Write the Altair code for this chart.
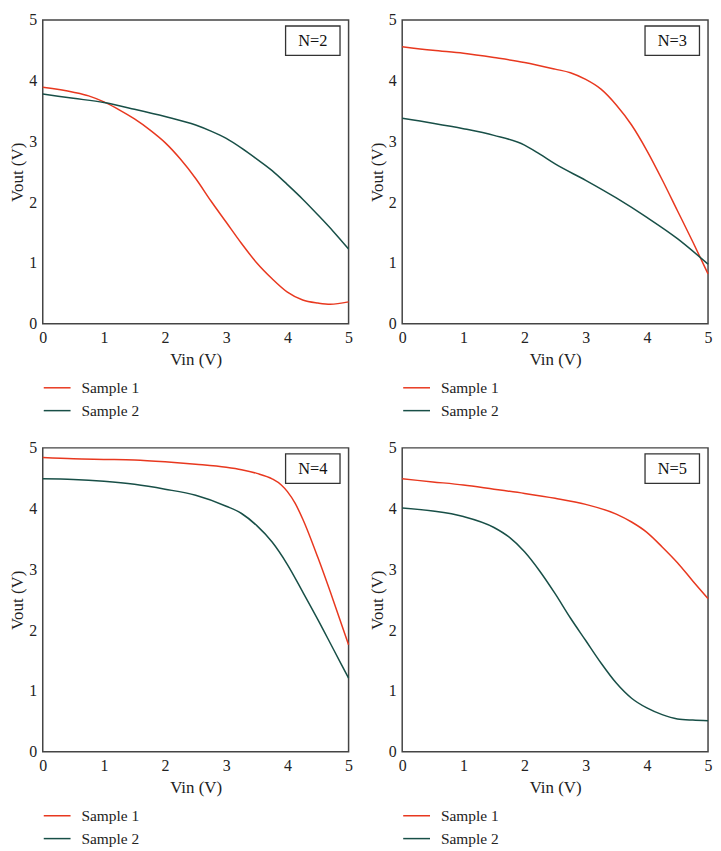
import altair as alt
import pandas as pd

SERIES = ["Sample 1", "Sample 2"]
COLORS = ["#e8381f", "#184f47"]
LABELS = ["N=2", "N=3", "N=4", "N=5"]

# N=2
N2_S1_X = [0, 0.5, 0.75, 1, 1.25, 1.5, 1.75, 2, 2.25, 2.5, 2.75, 3, 3.25, 3.5, 3.75, 4, 4.25, 4.5, 4.7, 5]
N2_S1_Y = [3.89, 3.81, 3.75, 3.65, 3.52, 3.37, 3.19, 2.98, 2.71, 2.39, 2.02, 1.67, 1.32, 1.00, 0.74, 0.52, 0.39, 0.34, 0.32, 0.36]
N2_S2_X = [0, 0.5, 1, 1.5, 2, 2.5, 2.75, 3, 3.25, 3.5, 3.75, 4, 4.25, 4.5, 4.75, 5]
N2_S2_Y = [3.78, 3.71, 3.64, 3.53, 3.41, 3.27, 3.17, 3.05, 2.89, 2.71, 2.52, 2.29, 2.05, 1.79, 1.52, 1.23]

# N=3
N3_S1_X = [0, 0.5, 1, 1.5, 2, 2.5, 2.75, 3, 3.25, 3.5, 3.75, 4, 4.25, 4.5, 4.75, 5]
N3_S1_Y = [4.56, 4.50, 4.45, 4.38, 4.30, 4.19, 4.13, 4.02, 3.86, 3.60, 3.27, 2.85, 2.37, 1.86, 1.35, 0.82]
N3_S2_X = [0, 0.5, 1, 1.5, 2, 2.25, 2.5, 3, 3.5, 4, 4.5, 5]
N3_S2_Y = [3.38, 3.30, 3.21, 3.10, 2.94, 2.79, 2.63, 2.36, 2.07, 1.75, 1.40, 0.98]

# N=4
N4_S1_X = [0, 0.5, 1, 1.5, 2, 2.5, 3, 3.25, 3.5, 3.75, 3.9, 4, 4.125, 4.25, 4.5, 4.75, 5]
N4_S1_Y = [4.84, 4.82, 4.81, 4.80, 4.77, 4.73, 4.68, 4.64, 4.58, 4.49, 4.39, 4.28, 4.09, 3.83, 3.19, 2.49, 1.76]
N4_S2_X = [0, 0.5, 1, 1.5, 2, 2.5, 3, 3.25, 3.5, 3.75, 4, 4.25, 4.5, 4.75, 5]
N4_S2_Y = [4.49, 4.48, 4.45, 4.40, 4.32, 4.22, 4.04, 3.92, 3.72, 3.45, 3.08, 2.63, 2.17, 1.69, 1.21]

# N=5
N5_S1_X = [0, 0.5, 1, 1.5, 2, 2.5, 3, 3.5, 3.75, 4, 4.25, 4.5, 4.75, 5]
N5_S1_Y = [4.49, 4.44, 4.39, 4.32, 4.25, 4.17, 4.07, 3.91, 3.78, 3.61, 3.37, 3.11, 2.81, 2.52]
N5_S2_X = [0, 0.5, 1, 1.5, 1.75, 2, 2.25, 2.5, 2.75, 3, 3.25, 3.5, 3.75, 4, 4.25, 4.5, 4.75, 5]
N5_S2_Y = [4.01, 3.96, 3.87, 3.69, 3.53, 3.29, 2.97, 2.60, 2.20, 1.83, 1.46, 1.13, 0.88, 0.72, 0.61, 0.54, 0.52, 0.51]

# label box (data units)
BOX_X = [3.97, 4.86]
BOX_Y = [4.415, 4.90]

TICKS = [0, 1, 2, 3, 4, 5]
FONT = "Liberation Serif"
W, H = 308, 306


def panel(label, s1x, s1y, s2x, s2y):
    rows = [{"x": a, "y": b, "series": SERIES[0]} for a, b in zip(s1x, s1y)]
    rows += [{"x": a, "y": b, "series": SERIES[1]} for a, b in zip(s2x, s2y)]
    df = pd.DataFrame(rows)
    xs = alt.Scale(domain=[0, 5], nice=False)
    ys = alt.Scale(domain=[0, 5], nice=False)
    xax = alt.Axis(values=TICKS, format="d", labelFlush=False, labelPadding=6, titlePadding=6,
                   ticks=False, tickSize=0, domain=False, grid=False)
    yax = alt.Axis(values=TICKS, format="d", labelPadding=6, titlePadding=2,
                   ticks=False, tickSize=0, domain=False, grid=False)
    lines = alt.Chart(df).mark_line(interpolate="monotone", strokeWidth=1.5).encode(
        x=alt.X("x:Q", scale=xs, axis=xax, title="Vin (V)"),
        y=alt.Y("y:Q", scale=ys, axis=yax, title="Vout (V)"),
        color=alt.Color("series:N", scale=alt.Scale(domain=SERIES, range=COLORS),
                        legend=alt.Legend(title=None, orient="none", legendX=0, legendY=356,
                                          symbolType="stroke", symbolSize=729,
                                          symbolStrokeWidth=1.5, labelOffset=10,
                                          rowPadding=-6, padding=0, direction="vertical")),
        order=alt.Order("x:Q"),
    )
    box_df = pd.DataFrame({"x": [BOX_X[0]], "x2": [BOX_X[1]], "y": [BOX_Y[0]], "y2": [BOX_Y[1]],
                           "cx": [sum(BOX_X) / 2], "cy": [sum(BOX_Y) / 2], "label": [label]})
    box = alt.Chart(box_df).mark_rect(fill="white", stroke="#333333", strokeWidth=1.3).encode(
        x=alt.X("x:Q", scale=xs, title="Vin (V)"), x2="x2",
        y=alt.Y("y:Q", scale=ys, title="Vout (V)"), y2="y2",
    )
    txt = alt.Chart(box_df).mark_text(font=FONT, fontSize=16.5, color="#111111",
                                      baseline="middle", align="center").encode(
        x=alt.X("cx:Q", scale=xs, title="Vin (V)"),
        y=alt.Y("cy:Q", scale=ys, title="Vout (V)"),
        text="label:N",
    )
    return alt.layer(lines, box, txt).properties(width=W, height=H)


p1 = panel(LABELS[0], N2_S1_X, N2_S1_Y, N2_S2_X, N2_S2_Y)
p2 = panel(LABELS[1], N3_S1_X, N3_S1_Y, N3_S2_X, N3_S2_Y)
p3 = panel(LABELS[2], N4_S1_X, N4_S1_Y, N4_S2_X, N4_S2_Y)
p4 = panel(LABELS[3], N5_S1_X, N5_S1_Y, N5_S2_X, N5_S2_Y)

row1 = alt.hconcat(p1, p2, spacing=14).resolve_scale(color="independent").resolve_legend(color="independent")
row2 = alt.hconcat(p3, p4, spacing=14).resolve_scale(color="independent").resolve_legend(color="independent")

chart = alt.vconcat(row1, row2, spacing=19).resolve_scale(
    color="independent").resolve_legend(color="independent").properties(
    padding=0, background="white").configure_axis(
    labelFont=FONT, titleFont=FONT, labelFontSize=16, titleFontSize=17,
    labelColor="#222222", titleColor="#222222", titleFontWeight="normal",
).configure_legend(
    labelFont=FONT, labelFontSize=15.5, labelColor="#222222",
).configure_view(
    stroke="#444444", strokeWidth=1.5,
)

chart.save("out.html", embed_options={"renderer": "svg", "actions": False})
